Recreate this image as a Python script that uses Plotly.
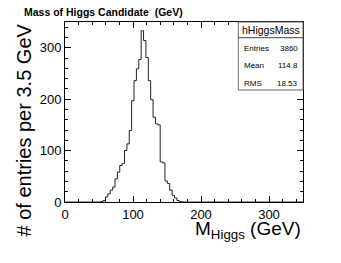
import plotly.graph_objects as go

# ---- data ----
bin_width = 3.5          # GeV
n_bins = 100
first_bin = 15           # index of first non-empty bin (52.5 GeV)
counts_nonzero = [
    1, 3, 10, 16, 23, 29, 45, 58, 71, 75, 100, 113, 139, 197,   # 52.5 .. 101.5
    236, 259, 277, 333, 314, 281, 236, 199,                      # 101.5 .. 129.5
    165, 152, 150, 78, 76, 41, 36, 23, 13, 8, 3, 1               # 129.5 .. 171.5
]
stats_name = "hHiggsMass"
stats_labels = ["Entries", "Mean", "RMS"]
stats_values = ["3860", "114.8", "18.53"]
x_ticks = [0, 100, 200, 300]
y_ticks = [0, 100, 200, 300]

counts = [0] * n_bins
for i, c in enumerate(counts_nonzero):
    counts[first_bin + i] = c
edges = [i * bin_width for i in range(n_bins + 1)]
xs = edges
ys = counts + [counts[-1]]

W, H = 341, 263
L, R, T, B = 65, 303, 22, 202
def px(xp):
    return (xp - L) / (R - L)
def py(yp):
    return (B - yp) / (B - T)

FONT = "Liberation Sans, Arial, Helvetica, sans-serif"

fig = go.Figure()
fig.add_trace(go.Scatter(x=xs, y=ys, mode="lines", line=dict(shape="hv", color="#222222", width=1),
                         hoverinfo="skip", showlegend=False))

axis_common = dict(showline=True, linecolor="black", linewidth=1, mirror="allticks",
                   ticks="inside", ticklen=6, tickwidth=1, tickcolor="black",
                   showgrid=False, zeroline=False, automargin=False,
                   tickfont=dict(family=FONT, size=13, color="black"),
                   minor=dict(ticks="inside", ticklen=3, tickwidth=1, tickcolor="black", showgrid=False))

fig.update_xaxes(range=[0, 350], tickvals=x_ticks, ticktext=[str(v) for v in x_ticks],
                 **axis_common)
fig.update_xaxes(minor_dtick=20, minor_tick0=0)
fig.update_yaxes(range=[0, 350], tickvals=y_ticks, ticktext=[str(v) for v in y_ticks],
                 **axis_common)
fig.update_yaxes(minor_dtick=20, minor_tick0=0)

ann = []
ann.append(dict(text="<b>Mass of Higgs Candidate\u00a0\u00a0(GeV)</b>", x=px(22), y=py(12),
                xref="paper", yref="paper", xanchor="left", yanchor="middle", showarrow=False,
                font=dict(family=FONT, size=10.5, color="black")))
ann.append(dict(text="# of entries per 3.5 GeV", x=px(23.5), y=py(130), textangle=-90,
                xref="paper", yref="paper", xanchor="center", yanchor="middle", showarrow=False,
                font=dict(family=FONT, size=20, color="black")))
ann.append(dict(text="M<sub>Higgs</sub> (GeV)", x=px(303), y=py(216),
                xref="paper", yref="paper", xanchor="right", yanchor="top", showarrow=False,
                font=dict(family=FONT, size=19, color="black")))
ann.append(dict(text=stats_name, x=px(270.8), y=py(30), xref="paper", yref="paper",
                xanchor="center", yanchor="middle", showarrow=False,
                font=dict(family=FONT, size=10.5, color="black")))
row_y = [48.3, 65.7, 83.3]
for lab, val, yy in zip(stats_labels, stats_values, row_y):
    ann.append(dict(text=lab, x=px(241.7), y=py(yy), xref="paper", yref="paper",
                    xanchor="left", yanchor="middle", showarrow=False,
                    font=dict(family=FONT, size=8, color="black")))
    ann.append(dict(text=val, x=px(299.5), y=py(yy), xref="paper", yref="paper",
                    xanchor="right", yanchor="middle", showarrow=False,
                    font=dict(family=FONT, size=8, color="black")))

shapes = [
    dict(type="rect", xref="paper", yref="paper", x0=px(238.3), x1=1, y0=py(90), y1=1,
         line=dict(color="#666666", width=1), fillcolor="white", layer="above"),
    dict(type="line", xref="paper", yref="paper", x0=px(238.3), x1=1, y0=py(37.7), y1=py(37.7),
         line=dict(color="#444444", width=1)),
]

fig.update_layout(width=W, height=H, margin=dict(l=L, r=W - R, t=T, b=H - B, pad=0, autoexpand=False),
                  paper_bgcolor="white", plot_bgcolor="white",
                  annotations=ann, shapes=shapes, showlegend=False,
                  font=dict(family=FONT, color="black"))

fig.write_html("out.html", config={"displayModeBar": False, "staticPlot": True},
               post_script="document.body.style.margin='0';document.body.style.padding='0';")
